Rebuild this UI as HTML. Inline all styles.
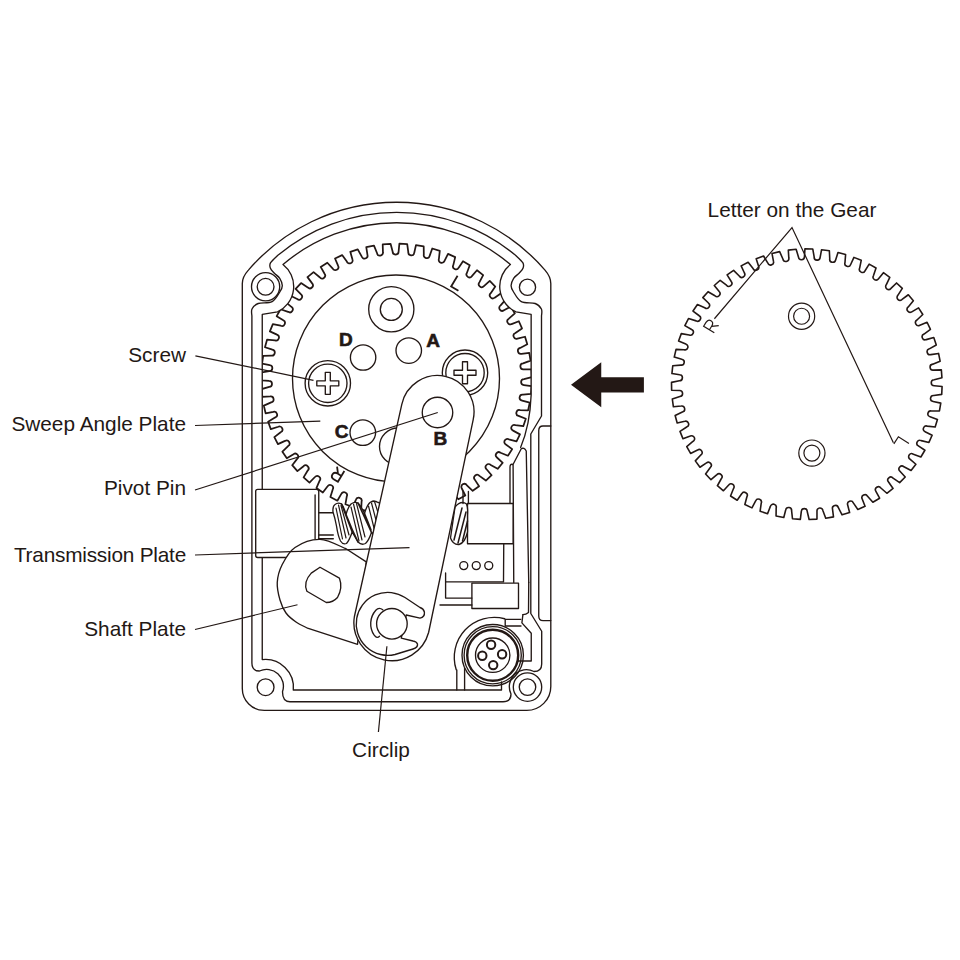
<!DOCTYPE html>
<html><head><meta charset="utf-8"><style>
html,body{margin:0;padding:0;background:#fff;}
svg{display:block;}
.s{fill:none;stroke:#231815;stroke-width:1.35;stroke-linejoin:round;stroke-linecap:round;}
.f{fill:#fff;stroke:#231815;stroke-width:1.35;stroke-linejoin:round;stroke-linecap:round;}
</style></head><body>
<svg width="960" height="960" viewBox="0 0 960 960">
<path d="M242.3,688 L242.3,283.5 Q242.3,276.8 248.4,270.1 A196,196 0 0 1 545,270.1 Q550.8,276.8 550.8,283.5 L550.8,686.4 A24,24 0 0 1 526.8,710.4 L264.3,710.4 A22,22 0 0 1 242.3,688.4 Z" class="s"/>
<path d="M251.9,316 L251.9,663 Q251.9,671 259.5,671 A16.8,16.8 0 0 1 282.5,691.7 Q282.5,701.7 290,701.7 L503,701.7 Q511,701.7 511,694 A17,17 0 0 1 534,671.5 Q541.7,671.5 541.7,664 L541.7,631.25 L530.8,613.5 L530.8,434 L541.5,416 L541.5,316 C541.48,314.83 542.45,311.08 541.40,309.00 C540.35,306.92 538.55,304.72 535.20,303.50 C531.85,302.28 524.95,303.70 521.30,301.70 C517.65,299.70 515.00,294.18 513.30,291.50 C511.60,288.82 511.04,287.80 511.10,285.60 C511.16,283.40 512.32,280.37 513.65,278.30 C514.98,276.23 517.52,274.90 519.10,273.20 C520.67,271.50 522.48,269.85 523.10,268.10 C523.72,266.35 524.07,264.85 522.80,262.70 C521.53,260.55 516.72,256.45 515.50,255.20 A186,186 0 0 0 277.9,255.2 C276.68,256.45 271.87,260.55 270.60,262.70 C269.33,264.85 269.68,266.35 270.30,268.10 C270.92,269.85 272.73,271.50 274.30,273.20 C275.88,274.90 278.42,276.23 279.75,278.30 C281.08,280.37 282.24,283.40 282.30,285.60 C282.36,287.80 281.80,288.82 280.10,291.50 C278.40,294.18 275.75,299.70 272.10,301.70 C268.45,303.70 261.55,302.28 258.20,303.50 C254.85,304.72 253.05,306.92 252.00,309.00 C250.95,311.08 251.92,314.83 251.90,316.00 Z" class="s"/>
<path d="M550.8,426 L543,426 Q538.75,426 538.75,430.5 L538.75,616 Q538.75,620.6 543,620.6 L550.8,620.6" class="s"/>
<path d="M262.25,557.5 L262.25,659.6 A28,28 0 0 1 293.3,690 L501.5,690 L501.5,682" class="s"/>
<circle cx="265.6" cy="286.8" r="8.4" class="s"/><circle cx="265.6" cy="286.8" r="14.1" class="s"/>
<circle cx="527.5" cy="287.2" r="8.1" class="s"/>
<circle cx="265.6" cy="687.2" r="8.4" class="s"/>
<circle cx="527.5" cy="687.1" r="8.25" class="s"/><circle cx="527.5" cy="687.1" r="14.2" class="s"/>
<clipPath id="cav"><path d="M262.25,314.4 L262.25,720 L531.15,720 L531.15,314.4 L516,311.9 A28,28 0 0 1 510.4,264.5 L396,150 L283,264.5 A28,28 0 0 1 277.5,311.9 Z"/></clipPath>
<path d="M390.56,243.83 L392.61,251.56 A3.00,3.00 0 0 0 398.61,251.52 L399.36,243.73 L407.21,244.12 L408.30,252.05 A3.00,3.00 0 0 0 414.26,252.74 L415.96,245.11 L423.71,246.46 L423.81,254.46 A3.00,3.00 0 0 0 429.64,255.88 L432.26,248.51 L439.79,250.81 L438.91,258.76 A3.00,3.00 0 0 0 444.52,260.89 L448.03,253.90 L455.21,257.10 L453.36,264.88 A3.00,3.00 0 0 0 458.67,267.68 L463.01,261.18 L469.75,265.24 L466.96,272.74 A3.00,3.00 0 0 0 471.88,276.17 L476.99,270.24 L483.17,275.11 L479.48,282.20 A3.00,3.00 0 0 0 483.94,286.21 L489.74,280.96 L495.28,286.54 L490.75,293.13 A3.00,3.00 0 0 0 494.68,297.66 L501.08,293.16 L505.90,299.38 L500.59,305.36 A3.00,3.00 0 0 0 503.94,310.34 L510.84,306.66 L514.85,313.43 L508.85,318.71 A3.00,3.00 0 0 0 511.56,324.06 L518.86,321.26 L522.01,328.47 L515.40,332.98 A3.00,3.00 0 0 0 517.44,338.62 L525.03,336.74 L527.27,344.28 L520.16,347.94 A3.00,3.00 0 0 0 521.48,353.79 L529.25,352.85 L530.54,360.61 L523.04,363.37 A3.00,3.00 0 0 0 523.63,369.34 L531.46,369.36 L531.79,377.22 L524.00,379.04 A3.00,3.00 0 0 0 523.86,385.03 L531.62,386.02 L530.98,393.86 L523.03,394.70 A3.00,3.00 0 0 0 522.15,400.64 L529.73,402.57 L528.14,410.28 L520.14,410.13 A3.00,3.00 0 0 0 518.54,415.92 L525.82,418.76 L523.29,426.21 L515.38,425.09 A3.00,3.00 0 0 0 513.08,430.63 L519.96,434.36 L516.53,441.44 L508.81,439.35 A3.00,3.00 0 0 0 505.85,444.57 L512.22,449.11 L507.95,455.72 L500.54,452.70 A3.00,3.00 0 0 0 496.96,457.51 L502.73,462.80 L497.68,468.83 L490.70,464.92 A3.00,3.00 0 0 0 486.55,469.26 L491.62,475.22 L485.87,480.58 L479.43,475.85 A3.00,3.00 0 0 0 474.78,479.64 L479.08,486.18 L472.71,490.79 L466.90,485.30 A3.00,3.00 0 0 0 461.82,488.50 L465.28,495.51 L458.39,499.31 L453.30,493.15 A3.00,3.00 0 0 0 447.87,495.70 L450.44,503.08 L443.14,506.01 L438.84,499.26 A3.00,3.00 0 0 0 433.14,501.12 L434.79,508.77 L427.18,510.78 L423.74,503.56 A3.00,3.00 0 0 0 417.85,504.70 L418.55,512.49 L410.75,513.55 L408.23,505.96 A3.00,3.00 0 0 0 402.24,506.37 L401.98,514.19 L394.11,514.28 L392.54,506.44 A3.00,3.00 0 0 0 386.55,506.11 L385.32,513.84 L377.50,512.96 L376.91,504.99 A3.00,3.00 0 0 0 371.00,503.92 L368.84,511.44 L361.19,509.61 L361.57,501.62 A3.00,3.00 0 0 0 355.84,499.84 L352.77,507.04 L345.40,504.28 L346.77,496.40 A3.00,3.00 0 0 0 341.30,493.93 L337.37,500.69 L330.40,497.05 L332.72,489.40 A3.00,3.00 0 0 0 327.60,486.28 L322.86,492.51 L316.39,488.03 L319.63,480.72 A3.00,3.00 0 0 0 314.93,477.00 L309.47,482.60 L303.60,477.36 L307.72,470.51 A3.00,3.00 0 0 0 303.51,466.23 L297.40,471.12 L292.21,465.20 L297.14,458.90 A3.00,3.00 0 0 0 293.50,454.14 L286.83,458.24 L282.41,451.73 L288.08,446.09 A3.00,3.00 0 0 0 285.04,440.91 L277.93,444.16 L274.34,437.16 L280.66,432.26 A3.00,3.00 0 0 0 278.28,426.75 L270.82,429.10 L268.12,421.71 L274.99,417.62 A3.00,3.00 0 0 0 273.31,411.86 L265.61,413.27 L263.84,405.61 L271.16,402.39 A3.00,3.00 0 0 0 270.20,396.47 L262.39,396.93 L261.58,389.10 L269.24,386.81 A3.00,3.00 0 0 0 269.01,380.82 L261.21,380.31 L261.36,372.45 L269.24,371.11 A3.00,3.00 0 0 0 269.76,365.14 L262.07,363.68 L263.19,355.89 L271.18,355.54 A3.00,3.00 0 0 0 272.42,349.67 L264.97,347.27 L267.04,339.68 L275.01,340.31 A3.00,3.00 0 0 0 276.97,334.64 L269.87,331.35 L272.85,324.07 L280.69,325.68 A3.00,3.00 0 0 0 283.32,320.29 L276.68,316.15 L280.54,309.29 L288.12,311.85 A3.00,3.00 0 0 0 291.40,306.82 L285.32,301.90 L289.99,295.57 L297.19,299.04 A3.00,3.00 0 0 0 301.06,294.46 L295.63,288.82 L301.05,283.11 L307.77,287.44 A3.00,3.00 0 0 0 312.17,283.37 L307.48,277.11 L313.55,272.11 L319.69,277.23 A3.00,3.00 0 0 0 324.57,273.73 L320.68,266.94 L327.32,262.73 L332.78,268.56 A3.00,3.00 0 0 0 338.05,265.69 L335.02,258.47 L342.13,255.10 L346.84,261.57 A3.00,3.00 0 0 0 352.42,259.36 L350.30,251.83 L357.77,249.36 L361.64,256.36 A3.00,3.00 0 0 0 367.45,254.85 L366.27,247.12 L373.99,245.59 L376.98,253.00 A3.00,3.00 0 0 0 382.93,252.22 L382.71,244.40 Z" class="f" clip-path="url(#cav)" style="stroke-width:1.75"/>
<path d="M262.25,489 L262.25,314.4 L277.5,311.9 A28,28 0 0 0 283,264.5 A175.6,175.6 0 0 1 510.4,264.5 A28,28 0 0 0 516,311.9 L531.15,314.4 L531.15,395 Q530,425 520.6,447.5" class="s"/>
<circle cx="396" cy="378.5" r="103.5" class="s"/>
<circle cx="391.3" cy="309.2" r="22.6" class="s"/><circle cx="391.3" cy="309.4" r="11" class="s"/>
<circle cx="363.1" cy="357.5" r="12.7" class="s"/>
<circle cx="408.75" cy="350.6" r="12.75" class="s"/>
<circle cx="362.8" cy="432.6" r="12.8" class="s"/>
<circle cx="398" cy="446.5" r="18.5" class="s"/>
<circle cx="327.8" cy="383.3" r="22.7" class="s"/><circle cx="327.8" cy="383.3" r="19.2" class="s"/><path d="M325.30,372.30 L330.30,372.30 L330.30,380.80 L338.80,380.80 L338.80,385.80 L330.30,385.80 L330.30,394.30 L325.30,394.30 L325.30,385.80 L316.80,385.80 L316.80,380.80 L325.30,380.80 Z" class="s"/>
<circle cx="465" cy="372.7" r="22.7" class="s"/><circle cx="465" cy="372.7" r="19.2" class="s"/><path d="M462.50,361.70 L467.50,361.70 L467.50,370.20 L476.00,370.20 L476.00,375.20 L467.50,375.20 L467.50,383.70 L462.50,383.70 L462.50,375.20 L454.00,375.20 L454.00,370.20 L462.50,370.20 Z" class="s"/>
<g font-family="Liberation Sans, sans-serif" font-weight="bold" font-size="19" fill="#231815" stroke="#231815" stroke-width="0.6">
<text x="339" y="346.3">D</text><text x="426.2" y="346.5">A</text><text x="334.8" y="438.3">C</text>
</g>
<path d="M0,0 L0,12.5 L8.5,12.5" transform="translate(458.0,283.3) rotate(31) translate(-4.25,-6.25)" fill="none" stroke="#231815" stroke-width="1.8"/>
<path d="M0,12.5 L0,0 L4.5,0 Q8.5,0 8.5,3.4 Q8.5,6.8 4.5,6.8 L0,6.8 M4,6.8 L8.5,12.5" transform="translate(337.5,474.2) rotate(211) translate(-4.25,-6.25)" fill="none" stroke="#231815" stroke-width="1.8"/>
<path d="M262.25,489.3 L257.7,489.3 Q255.7,489.3 255.7,491.3 L255.7,555.5 Q255.7,557.5 257.7,557.5 L290,557.5 L290,489.3 Z" fill="#fff" stroke="none"/>
<path d="M290,557.5 L257.7,557.5 Q255.7,557.5 255.7,555.5 L255.7,491.3 Q255.7,489.3 257.7,489.3 L316.5,489.3 Q318.75,489.3 318.75,491.5 L318.75,538.75" class="f"/>
<path d="M315.1,495 L315.1,538.75" class="s"/>
<path d="M318.75,512.7 L333.3,512.7 M318.75,535 L333.3,535 M318.75,538.75 L333.3,538.75" class="s"/>
<path d="M333,512 Q332.5,506 335,504.5 Q338,502 341.5,504 Q344,507 346,514.5 Q348,507 351,504 Q354.5,501.5 358,503 Q361,506 364.5,513.5 Q367,505 370,502.5 Q374,500 378,502.5 L381,503 L377,537 Q374,533.5 371.5,532.5 Q368.5,541 365.5,543.5 Q361.5,545.5 358,542 Q355,537 352.2,532 Q349,541 346.5,543.5 Q343,545 340.5,541 Q338,536 336.5,526 Q335,518 333,512 Z" class="f"/>
<path d="M341.5,504 Q347,518 352.2,532 M346,514.5 Q352,530 358,542 M358,503 Q365,518 371.5,532.5 M364.5,513.5 Q368,522 371,530" class="s" style="stroke-width:1.6"/>
<path d="M336,508 L342.5,539 M338.5,505 L346,538 M341,505.5 L349,535 M351,507 L359,541 M353.5,504 L362,540 M356.5,503.5 L365,537 M368.5,506 L374.5,530 M371.5,503 L377,524 M374.5,501.5 L378.5,514" class="s" style="stroke-width:1.2"/>
<path d="M510,503.5 L510,467 Q510,463.5 513,464.5 L521.25,448.75 Q524,447 526.25,451 L528.75,582.5" class="f"/>
<path d="M513.1,465 L513.75,582.5" class="s"/>
<rect x="467.5" y="503.5" width="45.6" height="40.25" class="f"/>
<path d="M503.75,543.75 L503.5,581.9 L445.6,581.9" class="s"/>
<circle cx="463.75" cy="565.6" r="4" class="s"/>
<circle cx="476.25" cy="565.6" r="4" class="s"/>
<circle cx="488.75" cy="565.6" r="4" class="s"/>
<rect x="471.9" y="583.1" width="46.6" height="25.4" class="f"/>
<path d="M445.6,573 L445.6,598.1 L471.9,598.1 M440,605 L471.9,605" class="s"/>
<path d="M455,507 Q461,500 466.5,504 Q468,508 467.5,515 L467.5,532 Q465,543 459,544.5 Q453,545 450.5,538 Z" class="f"/>
<path d="M463,491.5 L463,503.5 M468.4,491.5 L468.4,503.5" class="s"/>
<path d="M454,540 L462,508 M458,543 L466,512 M462.5,541 L467.5,521" class="s" style="stroke-width:1.5"/>
<path d="M528.75,582.5 L528.5,612.5 Q526,614.6 522.9,614.6" class="s"/>
<path d="M366.25,561.9 L346,548.75 C341.67,547.19 328.50,539.61 320.00,539.40 C311.50,539.19 301.33,543.23 295.00,547.50 C288.67,551.77 284.96,559.17 282.00,565.00 C279.04,570.83 277.58,576.67 277.25,582.50 C276.92,588.33 278.54,594.92 280.00,600.00 C281.46,605.08 283.33,609.33 286.00,613.00 C288.67,616.67 292.42,619.48 296.00,622.00 C299.58,624.52 305.58,627.08 307.50,628.10 L357.5,644.4 L366.25,561.9 Z" class="f"/>
<path d="M320,567.25 L339.4,578.1 Q343,588 337.5,597.5 Q333,602.5 326.25,602.5 L306.9,591.25 Q303,582 311.25,573.1 Z" class="s"/>
<path d="M401.8,404.3 A36.5,36.5 0 0 1 473.2,419.7 L428.6,632.5 A38,38 0 0 1 354.4,616.5 Z" class="f"/>
<circle cx="437.5" cy="412.5" r="15.25" class="s"/>
<text x="433.6" y="445.4" font-family="Liberation Sans, sans-serif" font-weight="bold" font-size="19" fill="#231815" stroke="#231815" stroke-width="0.6">B</text>
<path d="M406.25,615 L420,618.1 Q425,617 424.4,612 Q423.5,608.5 420,607.5 L405,597.5 A31.5,31.5 0 1 0 395,654.5 L413,649 Q418,647.5 417.5,644 Q416.5,641.5 413,641 L401.25,638.1 Z" class="f"/>
<path d="M382.8,609.8 Q379,606.8 375.8,610.2 A20.5,20.5 0 0 0 374.2,635.2 Q377,639 379.5,636.2" class="s"/>
<circle cx="391.9" cy="623.75" r="15.3" class="f"/>
<path d="M456.25,669.8 A40,40 0 0 1 504.7,618.75" class="s"/>
<circle cx="492.7" cy="655.2" r="30.7" class="s"/><circle cx="492.7" cy="655.2" r="28.6" class="s"/>
<circle cx="492.7" cy="655.2" r="25.5" class="s" style="stroke-width:2.4"/>
<circle cx="492.7" cy="655.2" r="17.2" class="s"/>
<circle cx="491.1" cy="644.8" r="4.2" class="s" style="stroke-width:2"/>
<circle cx="482.3" cy="655.7" r="4.2" class="s" style="stroke-width:2"/>
<circle cx="502.1" cy="654.2" r="4.2" class="s" style="stroke-width:2"/>
<circle cx="493.2" cy="665.1" r="4.2" class="s" style="stroke-width:2"/>
<path d="M456.8,670 L456.8,690 M464.6,668 L464.6,690" class="s"/>
<path d="M505.2,619.3 L520.8,619.3 M505.2,619.3 L505.2,626 L521,626" class="s"/>
<path d="M522.9,614.6 L521.9,622.9 L531.25,633.3 L531.25,661 L518,661" class="s"/>
<g stroke="#231815" stroke-width="1.2" fill="none">
<path d="M195.4,355.8 L313.5,380.3"/>
<path d="M195,425.5 L320.3,421.1"/>
<path d="M195,490 L437.75,412.5"/>
<path d="M195,555 L409.5,547.6"/>
<path d="M195,629.5 L297.5,604.75"/>
<path d="M386.9,646.25 L378.4,732"/>
<path d="M714.4,318.75 L792,227.5 L893.4,442.8"/>
</g>
<path d="M571,384.75 L601.25,362.2 L601.25,377.2 L643.9,377.2 L643.9,392.5 L601.25,392.5 L601.25,407.2 Z" fill="#231815"/>
<path d="M796.14,249.32 L798.47,256.97 A3.00,3.00 0 0 0 804.46,256.72 L804.93,248.91 L812.80,249.03 L814.16,256.91 A3.00,3.00 0 0 0 820.14,257.40 L821.57,249.71 L829.36,250.79 L829.75,258.78 A3.00,3.00 0 0 0 835.62,260.00 L837.99,252.54 L845.59,254.58 L844.99,262.55 A3.00,3.00 0 0 0 850.67,264.48 L853.93,257.37 L861.22,260.33 L859.65,268.17 A3.00,3.00 0 0 0 865.05,270.78 L869.16,264.13 L876.03,267.95 L873.51,275.54 A3.00,3.00 0 0 0 878.54,278.80 L883.44,272.70 L889.79,277.34 L886.35,284.56 A3.00,3.00 0 0 0 890.95,288.42 L896.56,282.96 L902.30,288.35 L897.99,295.09 A3.00,3.00 0 0 0 902.08,299.48 L908.32,294.76 L913.35,300.81 L908.25,306.98 A3.00,3.00 0 0 0 911.77,311.83 L918.54,307.92 L922.79,314.54 L916.97,320.03 A3.00,3.00 0 0 0 919.87,325.28 L927.07,322.23 L930.47,329.32 L924.02,334.05 A3.00,3.00 0 0 0 926.25,339.62 L933.78,337.48 L936.28,344.94 L929.30,348.84 A3.00,3.00 0 0 0 930.83,354.64 L938.56,353.43 L940.12,361.14 L932.72,364.16 A3.00,3.00 0 0 0 933.52,370.11 L941.34,369.86 L941.94,377.70 L934.22,379.79 A3.00,3.00 0 0 0 934.29,385.79 L942.08,386.50 L941.72,394.36 L933.80,395.48 A3.00,3.00 0 0 0 933.13,401.44 L940.77,403.11 L939.45,410.86 L931.45,411.00 A3.00,3.00 0 0 0 930.05,416.83 L937.43,419.43 L935.17,426.96 L927.21,426.12 A3.00,3.00 0 0 0 925.11,431.73 L932.11,435.21 L928.94,442.41 L921.15,440.60 A3.00,3.00 0 0 0 918.37,445.91 L924.90,450.23 L920.86,456.98 L913.35,454.22 A3.00,3.00 0 0 0 909.94,459.16 L915.89,464.24 L911.05,470.44 L903.94,466.78 A3.00,3.00 0 0 0 899.95,471.26 L905.22,477.04 L899.66,482.60 L893.06,478.10 A3.00,3.00 0 0 0 888.54,482.05 L893.07,488.43 L886.87,493.27 L880.86,487.98 A3.00,3.00 0 0 0 875.90,491.35 L879.61,498.24 L872.86,502.28 L867.55,496.30 A3.00,3.00 0 0 0 862.21,499.03 L865.04,506.32 L857.84,509.50 L853.31,502.91 A3.00,3.00 0 0 0 847.68,504.97 L849.59,512.55 L842.06,514.83 L838.37,507.73 A3.00,3.00 0 0 0 832.52,509.08 L833.49,516.84 L825.74,518.17 L822.95,510.67 A3.00,3.00 0 0 0 816.98,511.29 L816.99,519.12 L809.13,519.48 L807.29,511.70 A3.00,3.00 0 0 0 801.29,511.58 L800.34,519.35 L792.49,518.74 L791.61,510.79 A3.00,3.00 0 0 0 785.68,509.94 L783.78,517.53 L776.07,515.96 L776.17,507.97 A3.00,3.00 0 0 0 770.38,506.39 L767.57,513.69 L760.11,511.19 L761.20,503.27 A3.00,3.00 0 0 0 755.65,500.99 L751.95,507.88 L744.86,504.49 L746.91,496.76 A3.00,3.00 0 0 0 741.68,493.82 L737.17,500.21 L730.54,495.96 L733.53,488.55 A3.00,3.00 0 0 0 728.70,484.98 L723.44,490.77 L717.39,485.74 L721.26,478.75 A3.00,3.00 0 0 0 716.91,474.62 L710.98,479.72 L705.59,473.99 L710.29,467.52 A3.00,3.00 0 0 0 706.48,462.89 L699.96,467.22 L695.32,460.87 L700.79,455.03 A3.00,3.00 0 0 0 697.57,449.97 L690.57,453.46 L686.74,446.59 L692.88,441.47 A3.00,3.00 0 0 0 690.32,436.04 L682.94,438.65 L679.99,431.36 L686.71,427.03 A3.00,3.00 0 0 0 684.83,421.34 L677.19,423.02 L675.15,415.42 L682.36,411.95 A3.00,3.00 0 0 0 681.19,406.07 L673.40,406.80 L672.31,399.00 L679.89,396.45 A3.00,3.00 0 0 0 679.45,390.47 L671.63,390.23 L671.51,382.37 L679.35,380.76 A3.00,3.00 0 0 0 679.65,374.77 L671.92,373.58 L672.76,365.75 L680.74,365.12 A3.00,3.00 0 0 0 681.77,359.21 L674.25,357.08 L676.05,349.42 L684.03,349.78 A3.00,3.00 0 0 0 685.79,344.04 L678.58,341.00 L681.31,333.62 L689.20,334.95 A3.00,3.00 0 0 0 691.64,329.47 L684.86,325.57 L688.48,318.58 L696.14,320.87 A3.00,3.00 0 0 0 699.24,315.74 L692.99,311.03 L697.44,304.54 L704.76,307.75 A3.00,3.00 0 0 0 708.47,303.04 L702.85,297.60 L708.06,291.70 L714.93,295.79 A3.00,3.00 0 0 0 719.19,291.57 L714.28,285.48 L720.17,280.27 L726.49,285.17 A3.00,3.00 0 0 0 731.24,281.50 L727.11,274.86 L733.60,270.41 L739.27,276.05 A3.00,3.00 0 0 0 744.43,273.00 L741.15,265.89 L748.14,262.28 L753.07,268.57 A3.00,3.00 0 0 0 758.57,266.18 L756.19,258.72 L763.57,255.99 L767.68,262.85 A3.00,3.00 0 0 0 773.44,261.14 L771.99,253.45 L779.65,251.65 L782.89,258.96 A3.00,3.00 0 0 0 788.81,257.98 L788.32,250.17 Z" fill="none" stroke="#231815" stroke-width="1.6" stroke-linejoin="round"/>
<g fill="none" stroke="#231815" stroke-width="1.2"><circle cx="801.6" cy="316.25" r="13.1"/><circle cx="801.6" cy="316.25" r="8"/><circle cx="811.9" cy="453.1" r="13.1"/><circle cx="811.9" cy="453.1" r="8"/></g>
<path d="M0,12.5 L0,0 L4.5,0 Q8.5,0 8.5,3.4 Q8.5,6.8 4.5,6.8 L0,6.8 M4,6.8 L8.5,12.5" transform="translate(711.2,325.9) rotate(-58.5) translate(-4.25,-6.25)" fill="none" stroke="#231815" stroke-width="1.2"/>
<path d="M0,0 L0,12.5 L8.5,12.5" transform="translate(901.4,443.7) rotate(122.5) translate(-4.25,-6.25)" fill="none" stroke="#231815" stroke-width="1.2"/>
<g font-family="Liberation Sans, sans-serif" font-size="20.8" fill="#231815" text-anchor="end">
<text x="186" y="361.7">Screw</text>
<text x="186" y="431.25">Sweep Angle Plate</text>
<text x="186" y="495.4">Pivot Pin</text>
<text x="186" y="562.3" letter-spacing="-0.22">Transmission Plate</text>
<text x="186" y="636.25">Shaft Plate</text>
</g>
<text x="381" y="756.5" font-family="Liberation Sans, sans-serif" font-size="20.8" fill="#231815" text-anchor="middle">Circlip</text>
<text x="792" y="217" font-family="Liberation Sans, sans-serif" font-size="20.8" fill="#231815" text-anchor="middle">Letter on the Gear</text>
</svg>
</body></html>
